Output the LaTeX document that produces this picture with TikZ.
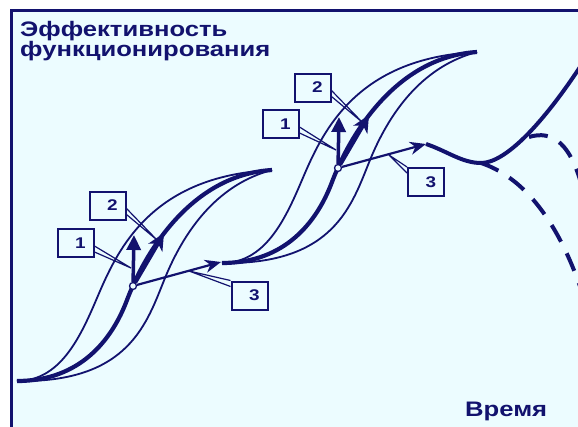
\documentclass[tikz,border=0pt]{standalone}
\usepackage{fontspec}
\newfontfamily\lab{Liberation Sans Bold}[FakeStretch=1.22]
\usetikzlibrary{arrows.meta}
\definecolor{navy}{RGB}{18,18,110}
\definecolor{bg}{RGB}{236,252,255}
\newcommand\drawSgroup{%
  \draw[thinc] (17,381) .. controls (60,381) and (80,338) .. (97,298) .. controls (117,251) and (150,176) .. (272,170);
  \draw[thinc] (17,381) .. controls (130,383) and (147,322) .. (165,278) .. controls (183,234) and (215,185) .. (272,170);
  \draw[thickc] (17,381) .. controls (80,381) and (112,340) .. (127,300) .. controls (144,255) and (190,175) .. (272,170);
}
\begin{document}
\begin{tikzpicture}[x=1pt,y=-1pt,
  thinc/.style={navy, line width=1.8pt, line join=round},
  thickc/.style={navy, line width=4.2pt, line join=round},
  arrone/.style={navy, line width=3.5pt, -{Triangle[width=14pt,length=15pt]}},
  arrtwo/.style={navy, line width=4.2pt, -{Stealth[width=16pt,length=17pt,inset=5pt]}},
  arrthree/.style={navy, line width=2.2pt, -{Stealth[width=13pt,length=16pt,inset=5pt]}},
  dot/.style={circle, draw=navy, fill=bg, line width=1.3pt, minimum size=7pt, inner sep=0pt},
  lbl/.style={draw=navy, fill=bg, line width=2pt, minimum width=36pt, minimum height=28pt, inner sep=0pt, text=navy, font=\lab\fontsize{15.5}{15.5}\selectfont},
  ptr/.style={navy, line width=1.2pt, line join=miter},
  wave/.style={navy, line width=4pt},
  dcurve/.style={navy, line width=4pt, dash pattern=on 19pt off 13pt},
  ttl/.style={text=navy, font=\lab\fontsize{21}{20.7}\selectfont, inner sep=0pt}
]
\useasboundingbox (0,0) rectangle (578,426);
\clip (0,0) rectangle (578,426);
\fill[white] (0,0) rectangle (578,426);
\fill[bg] (11.3,10.7) rectangle (580,430);
\draw[navy, line width=2.6pt] (11.3,430) -- (11.3,10.7) -- (580,10.7);

% group 1
\drawSgroup
% group 2
\begin{scope}[shift={(205,-118)}]
\drawSgroup
\end{scope}

% wave and dashed curves
\coordinate (w0) at (426,144);
\coordinate (wd1) at (481,163);
\coordinate (wend) at (582,64);
\draw[wave] (w0) .. controls (447,151) and (462,163) .. (wd1) .. controls (505,163) and (542,125) .. (wend);
\coordinate (d1end) at (582,292);
\coordinate (wd2) at (529,137);
\coordinate (d2end) at (584,195);
\draw[dcurve] (wd1) .. controls (520,176) and (556,215) .. (d1end);
\draw[dcurve] (wd2) .. controls (552,130) and (572,142) .. (d2end);

% group 1 markers
\node[dot] (c1) at (133,286) {};
\coordinate (a1) at (134,235);
\coordinate (a2) at (164,233);
\coordinate (l3) at (221,262);
\draw[arrthree] (c1) -- (l3);
\draw[arrone] (c1) -- (a1);
\draw[arrtwo] (c1) -- (a2);
% group 2 markers
\node[dot] (c2) at (338,168) {};
\coordinate (b1) at (339,117);
\coordinate (b2) at (369,115);
\draw[arrthree] (c2) -- (w0);
\draw[arrone] (c2) -- (b1);
\draw[arrtwo] (c2) -- (b2);

% labels group 1
\node[lbl] (g1n1) at (75.5,243) {\hspace*{10pt}\raisebox{-2.5pt}{1}};
\node[lbl] (g1n2) at (107.5,205.5) {\hspace*{10pt}\raisebox{-2.5pt}{2}};
\node[lbl] (g1n3) at (249.5,295.5) {\hspace*{10pt}\raisebox{-2.5pt}{3}};
\coordinate (g1t1) at (131,268);
\coordinate (g1t2) at (157,240);
\coordinate (g1t3) at (189,271);
\draw[ptr] ([yshift=-3pt]g1n1.east) -- (g1t1) -- ([yshift=-9pt]g1n1.east);
\draw[ptr] ([yshift=-3pt]g1n2.east) -- (g1t2) -- ([yshift=-9pt]g1n2.east);
\draw[ptr] (g1n3.north west) -- (g1t3) -- ([yshift=-6pt]g1n3.north west);
% labels group 2
\node[lbl] (g2n1) at (280.5,124) {\hspace*{10pt}\raisebox{-2.5pt}{1}};
\node[lbl] (g2n2) at (312.5,87.5) {\hspace*{10pt}\raisebox{-2.5pt}{2}};
\node[lbl] (g2n3) at (426,182) {\hspace*{10pt}\raisebox{-2.5pt}{3}};
\coordinate (g2t1) at (336,150);
\coordinate (g2t2) at (362,122);
\coordinate (g2t3) at (389,155);
\draw[ptr] ([yshift=-3pt]g2n1.east) -- (g2t1) -- ([yshift=-9pt]g2n1.east);
\draw[ptr] ([yshift=-3pt]g2n2.east) -- (g2t2) -- ([yshift=-9pt]g2n2.east);
\draw[ptr] (g2n3.north west) -- (g2t3) -- ([yshift=-6pt]g2n3.north west);

% texts
\node[ttl, anchor=base west, align=left] (title) at (20,56.7) {Эффективность\\функционирования};
\node[ttl, anchor=base west] (time) at (465,416) {Время};
\end{tikzpicture}
\end{document}
